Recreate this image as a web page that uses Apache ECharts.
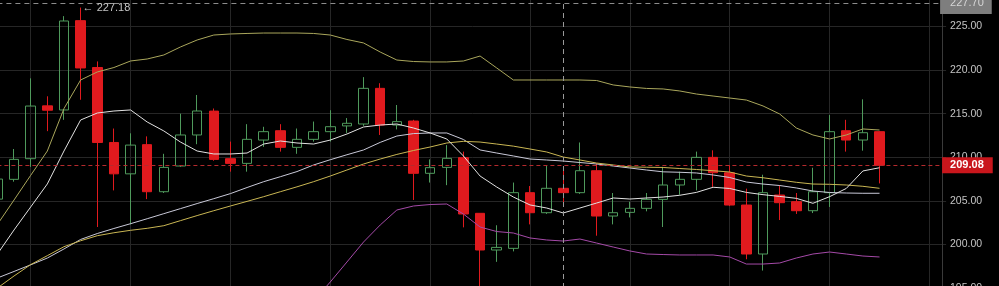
<!DOCTYPE html>
<html><head><meta charset="utf-8">
<style>html,body{margin:0;padding:0;background:#000;overflow:hidden}#c{width:999px;height:286px}</style>
<script src="https://cdn.jsdelivr.net/npm/echarts@6/dist/echarts.min.js"></script>
</head><body><div id="c"></div>
<script>
// category slots (first one is the partially visible candle at the left edge, last ones empty)
const categories = ['1','2','3','4','5','6','7','8','9','10','11','12','13','14','15','16','17','18','19','20',
  '21','22','23','24','25','26','27','28','29','30','31','32','33','34','35','36','37','38','39','40',
  '41','42','43','44','45','46','47','48','49','50','51','52','53','54','55','56','57','58'];

const open  = [205.2, 207.47, 209.84, 215.9, 215.43, 225.68, 220.3, 211.7, 208.1, 211.45, 206.05, 209.0, 212.56, 215.3, 209.84, 209.3, 211.98, 213.05, 211.14, 212.06, 212.94, 213.6, 213.82, 217.91, 213.7, 214.16, 208.16, 208.84, 209.96, 203.57, 199.36, 199.55, 205.94, 203.64, 206.44, 205.94, 208.46, 203.26, 203.68, 204.14, 205.17, 206.82, 207.47, 209.99, 208.23, 204.52, 198.9, 205.67, 204.91, 203.87, 205.94, 213.05, 211.98, 212.94];
const close = [207.5, 209.76, 215.88, 215.4, 225.64, 220.25, 211.7, 208.1, 211.4, 206.05, 208.84, 212.56, 215.31, 209.76, 209.3, 212.06, 212.94, 211.14, 212.06, 212.94, 213.51, 213.9, 217.91, 213.7, 214.09, 208.16, 208.81, 209.88, 203.49, 199.36, 199.66, 205.94, 203.64, 206.44, 205.94, 208.46, 203.26, 203.64, 204.14, 205.17, 206.82, 207.47, 209.99, 208.23, 204.52, 198.9, 205.94, 204.79, 203.87, 206.05, 212.94, 211.98, 212.82, 209.08];
const low   = [204.6, 207.2, 208.9, 213.0, 214.3, 216.6, 202.0, 206.2, 202.3, 205.2, 205.9, 208.9, 211.5, 209.6, 208.35, 208.35, 211.2, 210.65, 210.4, 211.8, 211.8, 212.8, 213.6, 212.56, 213.2, 205.1, 207.1, 206.8, 201.96, 195.1, 198.0, 199.2, 202.3, 203.5, 204.7, 205.8, 201.0, 202.3, 203.1, 203.8, 202.0, 205.7, 206.2, 206.6, 204.4, 198.3, 197.0, 202.8, 203.5, 203.6, 204.3, 210.65, 210.76, 207.0];
const high  = [208.2, 210.95, 219.06, 217.0, 226.2, 227.18, 221.0, 213.3, 212.75, 212.4, 210.4, 215.0, 217.15, 215.6, 211.8, 213.8, 213.5, 213.8, 213.3, 214.1, 215.4, 214.5, 219.2, 218.5, 216.0, 214.3, 209.76, 211.4, 210.65, 203.6, 202.2, 207.1, 206.7, 209.0, 208.5, 211.7, 209.3, 205.9, 204.9, 205.9, 208.9, 208.35, 210.65, 210.8, 209.1, 206.4, 208.0, 206.8, 205.9, 208.8, 214.85, 214.3, 216.65, 213.0];

const bollUpper = [202.3, 205.1, 207.93, 210.72, 215.59, 218.87, 219.79, 220.3, 221.05, 221.28, 221.74, 222.66, 223.46, 224.03, 224.15, 224.21, 224.26, 224.26, 224.26, 224.21, 224.03, 223.52, 223.12, 222.08, 221.16, 220.99, 220.94, 220.94, 221.05, 221.62, 220.25, 218.87, 218.87, 218.87, 218.87, 218.87, 218.81, 218.3, 218.07, 217.9, 217.84, 217.61, 217.26, 217.03, 216.8, 216.57, 215.89, 214.97, 213.36, 212.56, 212.1, 212.56, 213.25, 213.13];
const maFast = [198.9, 201.66, 204.3, 206.94, 210.72, 214.28, 215.08, 215.31, 215.43, 214.05, 213.02, 211.75, 210.72, 210.38, 210.38, 210.49, 211.52, 211.87, 211.64, 211.52, 211.98, 212.67, 213.48, 213.7, 213.82, 213.36, 212.79, 212.1, 210.15, 207.85, 206.59, 205.44, 204.53, 204.18, 203.61, 204.18, 204.75, 205.33, 205.21, 205.33, 205.44, 205.64, 205.97, 206.56, 206.42, 205.97, 205.71, 205.51, 205.29, 204.72, 205.48, 206.42, 208.43, 208.8];
const bollMid = [196.15, 196.9, 197.66, 198.44, 199.48, 200.57, 201.25, 201.83, 202.38, 202.95, 203.53, 204.11, 204.69, 205.25, 205.83, 206.53, 207.2, 207.77, 208.36, 209.12, 209.72, 210.29, 210.84, 211.71, 212.44, 212.72, 212.79, 212.79, 212.04, 210.84, 210.49, 210.15, 209.8, 209.69, 209.57, 209.4, 209.23, 209.0, 208.77, 208.54, 208.33, 208.28, 208.2, 207.97, 207.68, 207.16, 206.93, 206.76, 206.48, 206.13, 205.96, 205.9, 205.87, 205.87];
const maSlow = [195.0, 196.38, 197.69, 198.71, 199.74, 200.42, 201.0, 201.34, 201.62, 201.85, 202.15, 202.73, 203.31, 203.87, 204.41, 204.94, 205.48, 206.05, 206.61, 207.2, 207.85, 208.54, 209.23, 209.8, 210.33, 210.78, 211.18, 211.64, 211.83, 211.75, 211.52, 211.28, 210.95, 210.61, 210.03, 209.69, 209.34, 209.12, 208.89, 208.86, 208.83, 208.71, 208.6, 208.46, 208.31, 207.85, 207.65, 207.39, 207.13, 206.93, 206.9, 206.82, 206.67, 206.44];
const bollLower = [null, null, null, null, null, null, null, null, null, null, null, null, null, null, null, null, null, null,
  191.21, 193.51, 195.69, 197.98, 200.28, 202.23, 203.95, 204.41, 204.58, 204.64, 203.49, 202.0, 201.48, 201.31, 200.74, 200.51, 200.39, 200.62, 200.16, 199.7, 199.25, 198.9, 198.84, 198.79, 198.79, 198.79, 198.56, 197.75, 197.75, 197.87, 198.44, 198.9, 199.13, 198.9, 198.67, 198.56];

const yTicks = [195, 200, 205, 210, 215, 220, 225, 230];
const crossIndex = 34;      // crosshair category
const crossValue = 227.70;  // crosshair price

const candleData = open.map((o, i) => [o, close[i], low[i], high[i]]);
const lastClose = close[close.length - 1];
const maxHigh = Math.max(...high);
const maxIdx = high.indexOf(maxHigh);

const chart = echarts.init(document.getElementById('c'), null, {renderer: 'canvas'});
const lineS = (name, data, color) => ({
  name, type: 'line', data, symbol: 'none', showSymbol: false, smooth: false,
  lineStyle: {color, width: 1}, itemStyle: {color}, z: 3, silent: true, animation: false
});
chart.setOption({
  backgroundColor: '#000',
  animation: false,
  textStyle: {fontFamily: 'Liberation Sans, Arial, sans-serif'},
  grid: {left: -2.6, right: 52.9, top: -17, bottom: -2, containLabel: false, outerBoundsMode: 'none'},
  xAxis: {
    type: 'category', data: categories, boundaryGap: false,
    axisLine: {show: false}, axisTick: {show: false}, axisLabel: {show: false},
    splitLine: {show: true, interval: (i) => i % 6 === 2, lineStyle: {color: '#262626', width: 1}}
  },
  yAxis: {
    type: 'value', position: 'right', offset: -4.1,
    min: yTicks[0], max: yTicks[yTicks.length - 1], interval: 5,
    axisLine: {show: true, lineStyle: {color: '#3a3a3a'}},
    axisTick: {show: false},
    axisLabel: {color: '#c4c4c4', fontSize: 10.5, margin: 8, formatter: v => v.toFixed(2)},
    splitLine: {show: true, lineStyle: {color: '#262626', width: 1}}
  },
  series: [
    {
      type: 'candlestick', data: candleData, barWidth: 10, clip: true, z: 2,
      itemStyle: {color: 'rgba(0,0,0,0)', color0: '#e01a1e', borderColor: '#4f9a5c', borderColor0: '#e01a1e', borderWidth: 1},
      markPoint: {
        symbol: 'circle', symbolSize: 0, silent: true, animation: false,
        data: [{coord: [categories[maxIdx], maxHigh], value: maxHigh,
          label: {show: true, position: 'right', distance: 2, formatter: '\u2190 ' + maxHigh.toFixed(2), color: '#c4c4c4', fontSize: 11}}]
      },
      markLine: {
        symbol: ['none', 'none'], silent: true, animation: false, precision: 2,
        data: [
          {yAxis: lastClose, lineStyle: {color: '#b52a2d', type: [4, 3], width: 1},
            label: {show: true, position: 'end', distance: -4, formatter: lastClose.toFixed(2), color: '#ffffff', fontWeight: 'bold',
              fontSize: 11, lineHeight: 12, backgroundColor: '#c9161c', padding: [2, 9, 2, 8]}},
          {yAxis: crossValue, lineStyle: {color: '#8c8c8c', type: [5, 4], width: 1},
            label: {show: true, position: 'end', distance: -6, formatter: crossValue.toFixed(2), color: '#d6d6d6',
              fontSize: 11, lineHeight: 12, backgroundColor: '#7e7e7e', padding: [5, 8, 5, 10]}},
          {xAxis: categories[crossIndex], lineStyle: {color: '#9a9a9a', type: [5, 4], width: 1}, label: {show: false}}
        ]
      }
    },
    lineS('BOLL upper', bollUpper, '#aaa75c'),
    lineS('BOLL lower', bollLower, '#a54aa8'),
    lineS('BOLL mid', bollMid, '#c9c9d8'),
    lineS('MA slow', maSlow, '#c9b653'),
    lineS('MA fast', maFast, '#e2e2e2')
  ]
});
</script>
</body></html>
